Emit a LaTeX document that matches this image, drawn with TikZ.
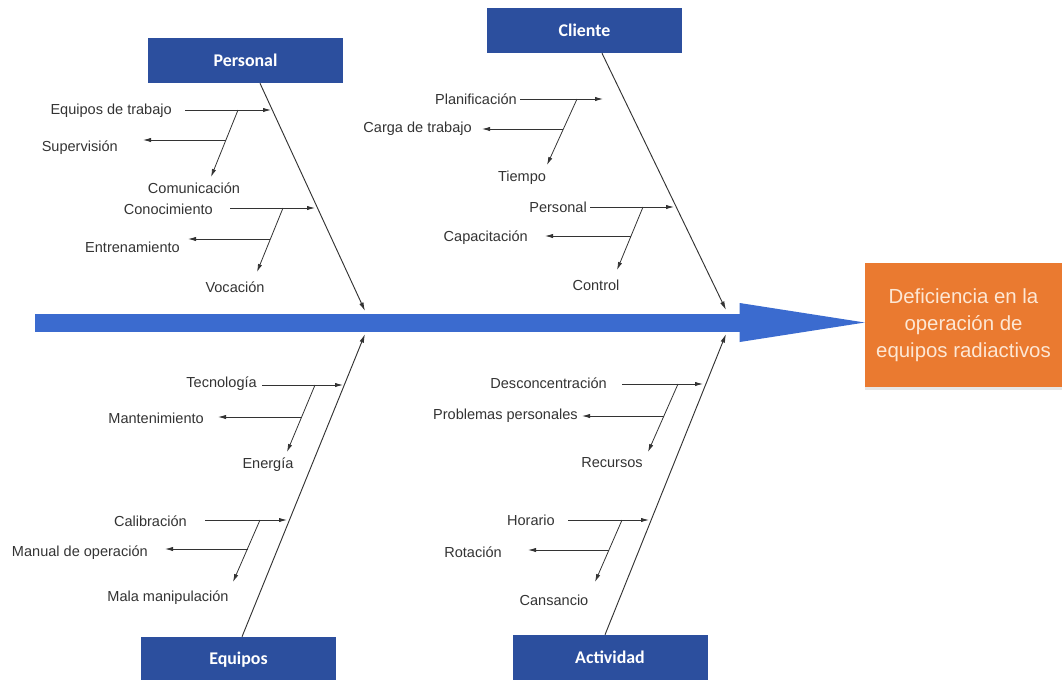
\documentclass[tikz,border=0pt]{standalone}
\usepackage{fontspec}
\setmainfont{Liberation Sans}
\newfontfamily\headfont{Carlito}
\usetikzlibrary{arrows.meta,calc,shadows}
\definecolor{hdblue}{HTML}{2C4F9E}
\definecolor{spblue}{HTML}{3B6BCF}
\definecolor{effor}{HTML}{EA7A30}
\definecolor{efftext}{HTML}{FDE7D4}
\tikzset{
  cause/.style={inner sep=0, text=black!80, font=\fontsize{10.9}{13}\selectfont},
  head/.style={fill=hdblue, minimum width=146.25pt, minimum height=33.75pt, inner sep=0, text=white, font=\headfont\bfseries\fontsize{13.4}{16}\selectfont},
  effect/.style={fill=effor, minimum width=147.75pt, minimum height=93pt, inner sep=0, align=center, text=efftext, font=\fontsize{15.3}{20.25}\selectfont, drop shadow={opacity=0.2, shadow xshift=0pt, shadow yshift=-2pt}},
  bone/.style={draw=black!80, line width=0.7pt, -{Latex[length=6.5pt,width=3.4pt]}},
  sub/.style={draw=black!80, line width=0.6pt, -{Latex[length=6pt,width=3.2pt]}}
}
\begin{document}
\begin{tikzpicture}[x=0.75pt,y=-0.75pt]
    \useasboundingbox (0,0) rectangle (1062,679);

    \node[head] (personal) at (245.5,60.5) {Personal};
    \node[head] (cliente) at (584.5,30.5) {Cliente};
    \node[head] (equipos) at (238.5,659.5) {Equipos};
    \node[head] (actividad) at (610,657.5) {Actividad};
    \node[effect] (efecto) at (963.5,325) {Deficiencia en la\\operación de\\equipos radiactivos};

    \coordinate (cola) at (35,322.5);
    \draw[line width=13.5pt, spblue, -{Triangle[length=93.75pt,width=29.25pt,line width=0pt]}] (cola) -- (cola -| efecto.west);

    \coordinate (pb) at (365,311);
    \coordinate (cb) at (726,310);
    \coordinate (eb) at (365,334);
    \coordinate (ab) at (726,334);
    \draw[bone] ($(personal.south)+(14.5,0)$) -- (pb);
    \draw[bone] ($(cliente.south)+(17.5,0)$) -- (cb);
    \draw[bone] ($(equipos.north)+(3.5,0)$) -- (eb);
    \draw[bone] ($(actividad.north)+(-5,0)$) -- (ab);

    \node[cause, anchor=east] (eqtrab) at (172,111) {Equipos de trabajo};
    \node[cause, anchor=east] (superv) at (118,148) {Supervisión};
    \node[cause] (comun) at (194,188) {Comunicación};
    \node[cause, anchor=east] (conoc) at (213,209) {Conocimiento};
    \node[cause, anchor=east] (entren) at (180,247) {Entrenamiento};
    \node[cause] (vocac) at (235,287) {Vocación};

    \node[cause, anchor=east] (planif) at (517,99) {Planificación};
    \node[cause, anchor=east] (carga) at (472,129) {Carga de trabajo};
    \node[cause] (tiempo) at (522,178) {Tiempo};
    \node[cause, anchor=east] (perscl) at (587,207) {Personal};
    \node[cause, anchor=east] (capac) at (528,238) {Capacitación};
    \node[cause] (control) at (596,285) {Control};

    \node[cause, anchor=east] (tecno) at (257,384) {Tecnología};
    \node[cause, anchor=east] (mant) at (204,418) {Mantenimiento};
    \node[cause] (energ) at (268,465) {Energía};
    \node[cause, anchor=east] (calib) at (187,521) {Calibración};
    \node[cause, anchor=east] (manual) at (148,553) {Manual de operación};
    \node[cause] (mala) at (168,598) {Mala manipulación};

    \node[cause, anchor=east] (descon) at (607,383) {Desconcentración};
    \node[cause, anchor=east] (probl) at (578,416) {Problemas personales};
    \node[cause] (recur) at (612,463) {Recursos};
    \node[cause, anchor=east] (horario) at (555,520) {Horario};
    \node[cause, anchor=east] (rotac) at (502,552) {Rotación};
    \node[cause] (cansan) at (554,600) {Cansancio};

    \foreach \g/\xa/\xb/\ya/\xd/\xf/\yf/\xe/\ye/\xg in {
      1/185/271/110/238/211/177/226/140/143,
      2/230/315/208/283/257/272/270/239/188,
      3/520/603/99/577/547/165/563/129/482,
      4/590/674/207/643/617/270/631/236/545,
      5/262/343/385/315/287/452/301/417/218,
      6/205/287/520/260/233/582/248/549/165,
      7/622/703/384/678/648/452/664/416/582,
      8/568/649/520/622/595/582/609/550/528}
    {
      \coordinate (in\g) at (\xa,\ya);
      \coordinate (tip\g) at (\xb,\ya);
      \coordinate (top\g) at (\xd,\ya);
      \coordinate (bot\g) at (\xf,\yf);
      \coordinate (mid\g) at (\xe,\ye);
      \coordinate (out\g) at (\xg,\ye);
      \draw[sub] (in\g) -- (tip\g);
      \draw[sub] (top\g) -- (bot\g);
      \draw[sub] (mid\g) -- (out\g);
    }
\end{tikzpicture}
\end{document}
